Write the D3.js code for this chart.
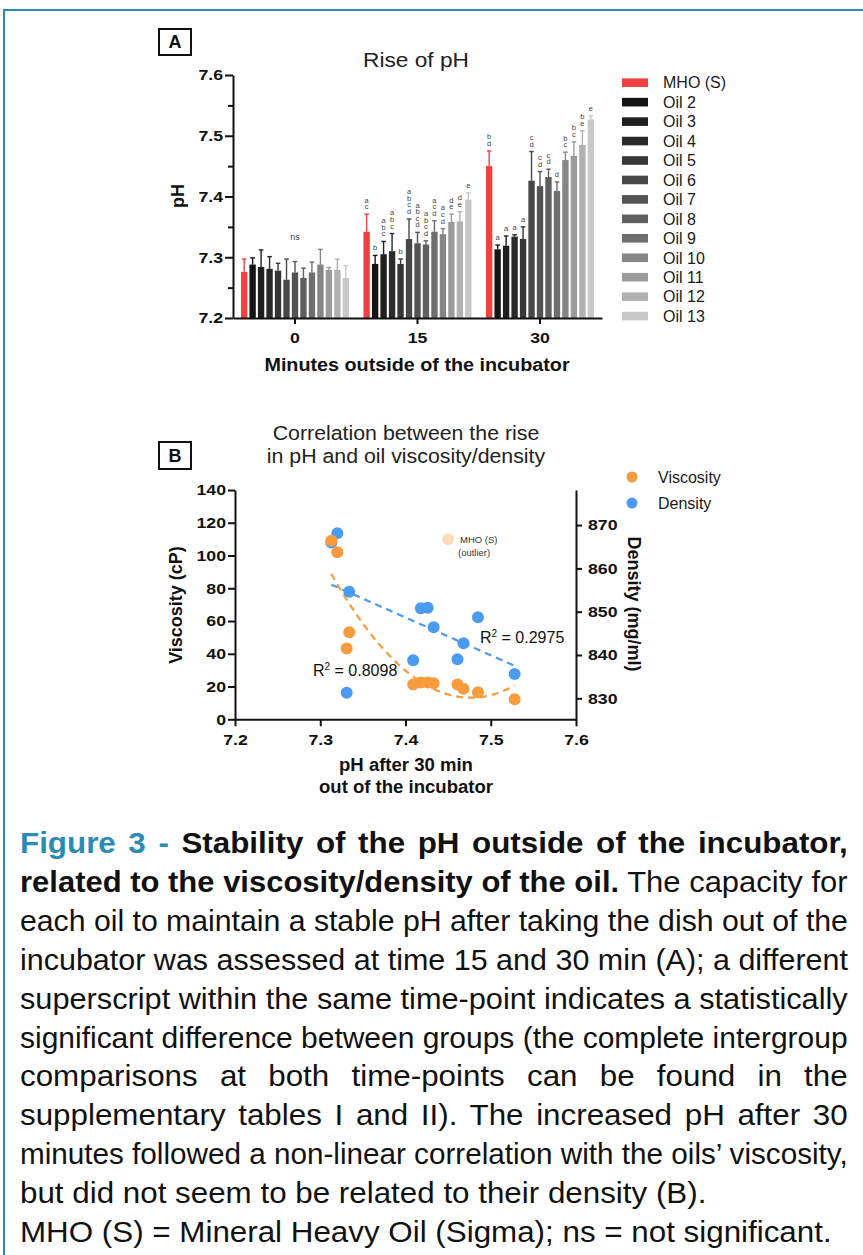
<!DOCTYPE html>
<html>
<head>
<meta charset="utf-8">
<script src="https://cdn.jsdelivr.net/npm/d3@7"></script>
<style>
  body { margin: 0; background: #fff; }
  svg { display: block; font-family: "Liberation Sans", Arial, Helvetica, sans-serif; }
  .caption { font-family: "Liberation Sans Narrow", "Arial Narrow", "Liberation Sans", Arial, sans-serif; white-space: pre; }
</style>
</head>
<body>
<svg id="fig" width="863" height="1255"></svg>
<script>
// ---------- Panel A: pH at 0, 15 and 30 min outside the incubator ----------
const timePoints = ["0", "15", "30"];
const groups = ["MHO (S)", "Oil 2", "Oil 3", "Oil 4", "Oil 5", "Oil 6", "Oil 7",
                "Oil 8", "Oil 9", "Oil 10", "Oil 11", "Oil 12", "Oil 13"];
const groupColors = ["#f23f3f", "#141414", "#1f1f1f", "#2a2a2a", "#363636", "#474747", "#535353",
                     "#5f5f5f", "#6e6e6e", "#858585", "#9b9b9b", "#b1b1b1", "#c8c8c8"];

const pH0  = [7.276, 7.288, 7.284, 7.281, 7.278, 7.263, 7.275, 7.266, 7.275, 7.288, 7.279, 7.279, 7.266];
const sd0  = [0.021, 0.011, 0.028, 0.020, 0.012, 0.034, 0.018, 0.016, 0.017, 0.025, 0.004, 0.018, 0.020];
const pH15 = [7.342, 7.289, 7.305, 7.310, 7.289, 7.330, 7.323, 7.321, 7.342, 7.338, 7.358, 7.359, 7.395];
const sd15 = [0.029, 0.014, 0.021, 0.029, 0.008, 0.033, 0.018, 0.006, 0.018, 0.009, 0.013, 0.016, 0.011];
const pH30 = [7.450, 7.313, 7.319, 7.334, 7.330, 7.426, 7.417, 7.432, 7.409, 7.460, 7.467, 7.485, 7.527];
const sd30 = [0.025, 0.007, 0.016, 0.003, 0.020, 0.048, 0.024, 0.013, 0.015, 0.013, 0.023, 0.023, 0.006];

const letters15 = ["ac", "b", "abc", "abc", "b", "abcd", "abcd", "abcd", "acd", "acd", "de", "de", "e"];
const letters30 = ["bd", "a", "a", "a", "a", "cd", "cd", "cd", "d", "bc", "bc", "be", "e"];
const groupLabel0 = "ns";
const yTicksA = [7.2, 7.3, 7.4, 7.5, 7.6];
const yMinorA = [7.25, 7.35, 7.45, 7.55];

// ---------- Panel B: pH after 30 min vs viscosity / density ----------
const oilsB      = ["Oil 2", "Oil 3", "Oil 4", "Oil 5", "Oil 6", "Oil 7", "Oil 8",
                    "Oil 9", "Oil 10", "Oil 11", "Oil 12", "Oil 13"];
const pHB        = [7.313, 7.320, 7.334, 7.331, 7.426, 7.418, 7.433, 7.409, 7.461, 7.468, 7.485, 7.528];
const viscosity  = [109.0, 102.0, 53.2, 43.2, 22.4, 22.4, 22.0, 21.2, 21.2, 18.7, 16.5, 12.2];
const density    = [866.0, 868.1, 854.6, 831.3, 850.9, 850.8, 846.4, 838.8, 839.0, 842.7, 848.7, 835.6];
const outlierMHO = { pH: 7.450, viscosity: 110 };
const r2Visc = "0.8098";
const r2Dens = "0.2975";
const xTicksB = [7.2, 7.3, 7.4, 7.5, 7.6];
const viscTicks = [0, 20, 40, 60, 80, 100, 120, 140];
const densTicks = [830, 840, 850, 860, 870];

// ---------- Caption ----------
const captionLines = [
  [["teal", "Figure 3 - "], ["bold", "Stability of the pH outside of the incubator,"]],
  [["bold", "related to the viscosity/density of the oil."], ["reg", " The capacity for"]],
  [["reg", "each oil to maintain a stable pH after taking the dish out of the"]],
  [["reg", "incubator was assessed at time 15 and 30 min (A); a different"]],
  [["reg", "superscript within the same time-point indicates a statistically"]],
  [["reg", "significant difference between groups (the complete intergroup"]],
  [["reg", "comparisons at both time-points can be found in the"]],
  [["reg", "supplementary tables I and II). The increased pH after 30"]],
  [["reg", "minutes followed a non-linear correlation with the oils\u2019 viscosity,"]],
  [["reg", "but did not seem to be related to their density (B)."]],
  [["reg", "MHO (S) = Mineral Heavy Oil (Sigma); ns = not significant."]]
];
const captionJustified = [true, true, true, true, true, true, true, true, true, false, false];

const TEAL = "#2a8cb5";
const ORANGE = "#f89b3c";
const BLUE = "#4c9bf2";
const svg = d3.select("#fig");

// widen text horizontally around its anchor point
function widen(sel, s) {
  sel.each(function () {
    const t = d3.select(this);
    const x = +t.attr("x") || 0;
    t.attr("transform", `translate(${x * (1 - s)},0) scale(${s},1)`);
  });
}

function styleAxis(g, size) {
  g.select(".domain").attr("stroke", "#111").attr("stroke-width", 2);
  g.selectAll(".tick line").attr("stroke", "#111").attr("stroke-width", 2);
  g.selectAll(".tick text").attr("fill", "#111").attr("font-size", size)
    .attr("font-weight", "bold").attr("font-family", "'Liberation Sans', Arial, sans-serif");
}

// outer frame
svg.append("path").attr("d", "M4,1260 V10 H870")
  .attr("fill", "none").attr("stroke", TEAL).attr("stroke-width", 2);

// panel letter boxes
function panelBox(x, y, w, h, label) {
  svg.append("rect").attr("x", x).attr("y", y).attr("width", w).attr("height", h)
    .attr("fill", "#fff").attr("stroke", "#111").attr("stroke-width", 2);
  svg.append("text").attr("x", x + w / 2).attr("y", y + h / 2).attr("dy", "0.36em")
    .attr("text-anchor", "middle").attr("font-weight", "bold").attr("font-size", 18)
    .attr("fill", "#111").text(label);
}

// =================== Panel A ===================
panelBox(159, 29, 32, 26, "A");

const yA = d3.scaleLinear().domain([7.2, 7.6]).range([318, 75]);
const xA = d3.scaleBand().domain(timePoints).range([233, 602]).paddingInner(0.118).paddingOuter(0.065);
const xIn = d3.scaleBand().domain(groups).range([0, xA.bandwidth()]).paddingInner(0.25).paddingOuter(0);

const titleA = svg.append("text").attr("x", 416).attr("y", 67).attr("text-anchor", "middle")
  .attr("font-size", 21).attr("fill", "#222").text("Rise of pH");
widen(titleA, 1.08);

const seriesA = [
  { t: "0", v: pH0, sd: sd0, lab: null },
  { t: "15", v: pH15, sd: sd15, lab: letters15 },
  { t: "30", v: pH30, sd: sd30, lab: letters30 }
];

const gA = svg.append("g");
seriesA.forEach(s => {
  const g = gA.append("g").attr("transform", `translate(${xA(s.t)},0)`);
  groups.forEach((name, i) => {
    const x = xIn(name), w = xIn.bandwidth(), cx = x + w / 2;
    const top = s.v[i] + s.sd[i];
    g.append("line").attr("x1", cx).attr("x2", cx).attr("y1", yA(s.v[i])).attr("y2", yA(top))
      .attr("stroke", groupColors[i]).attr("stroke-width", 1.4);
    g.append("line").attr("x1", cx - 2.3).attr("x2", cx + 2.3).attr("y1", yA(top)).attr("y2", yA(top))
      .attr("stroke", groupColors[i]).attr("stroke-width", 1.4);
    g.append("rect").attr("x", x).attr("width", w)
      .attr("y", yA(s.v[i])).attr("height", yA(7.2) - yA(s.v[i]))
      .attr("fill", groupColors[i]);
    if (s.lab) {
      // significance letters stacked one per line above the error bar
      const t = g.append("text").attr("text-anchor", "middle").attr("font-size", 7.5).attr("fill", "#444");
      const chars = s.lab[i].split("");
      const y0 = yA(top) - 5 - (chars.length - 1) * 6.6;
      chars.forEach((c, k) => {
        t.append("tspan").attr("x", cx).attr("y", y0 + k * 6.6).text(c);
      });
    }
  });
});
svg.append("text").attr("x", xA("0") + xA.bandwidth() / 2).attr("y", 240)
  .attr("text-anchor", "middle").attr("font-size", 9).attr("fill", "#444").text(groupLabel0);

// axes A
const axYA = svg.append("g").attr("transform", "translate(233,0)")
  .call(d3.axisLeft(yA).tickValues(yTicksA).tickFormat(d3.format(".1f")).tickSize(8).tickPadding(2).tickSizeOuter(0));
styleAxis(axYA, 15);
widen(axYA.selectAll(".tick text"), 1.18);
svg.append("g").attr("transform", "translate(233,0)")
  .call(d3.axisLeft(yA).tickValues(yMinorA).tickFormat("").tickSize(5).tickSizeOuter(0))
  .call(g => { g.select(".domain").remove(); g.selectAll("line").attr("stroke", "#111").attr("stroke-width", 2); });

const axXA = svg.append("g").attr("transform", "translate(0,318)")
  .call(d3.axisBottom(xA).tickSize(6).tickPadding(8).tickSizeOuter(0));
styleAxis(axXA, 15);
widen(axXA.selectAll(".tick text"), 1.18);

const tA = svg.append("text").attr("x", 417).attr("y", 371).attr("text-anchor", "middle")
  .attr("font-weight", "bold").attr("font-size", 17.5).attr("fill", "#111")
  .text("Minutes outside of the incubator");
widen(tA, 1.13);
svg.append("text").attr("transform", "translate(184,196) rotate(-90)").attr("text-anchor", "middle")
  .attr("font-weight", "bold").attr("font-size", 18).attr("fill", "#111").text("pH");

// legend A
const legA = svg.append("g");
groups.forEach((name, i) => {
  const cy = 82.7 + i * 19.45;
  legA.append("rect").attr("x", 622).attr("y", cy - 4.3).attr("width", 26).attr("height", 8.6)
    .attr("fill", groupColors[i]);
  legA.append("text").attr("x", 663).attr("y", cy).attr("dy", "0.36em")
    .attr("font-size", 16).attr("fill", "#1a1a1a").text(name);
});

// =================== Panel B ===================
panelBox(159, 442, 32, 27, "B");
const tB1 = svg.append("text").attr("x", 406).attr("y", 440).attr("text-anchor", "middle")
  .attr("font-size", 20.5).attr("fill", "#222").text("Correlation between the rise");
const tB2 = svg.append("text").attr("x", 406).attr("y", 463).attr("text-anchor", "middle")
  .attr("font-size", 20.5).attr("fill", "#222").text("in pH and oil viscosity/density");
widen(tB1, 1.04); widen(tB2, 1.04);

const xB = d3.scaleLinear().domain([7.2, 7.6]).range([235, 576]);
const yV = d3.scaleLinear().domain([0, 140]).range([719.3, 490]);
const yD = d3.scaleLinear().domain([825.15, 878.1]).range([719.3, 490]);

// least-squares polynomial fit (centred on the mean of x)
function polyFit(xs, ys, deg) {
  const n = deg + 1, mx = d3.mean(xs);
  const M = Array.from({ length: n }, () => Array(n + 1).fill(0));
  xs.forEach((x, k) => {
    const t = x - mx;
    for (let i = 0; i < n; i++) {
      for (let j = 0; j < n; j++) M[i][j] += Math.pow(t, i + j);
      M[i][n] += ys[k] * Math.pow(t, i);
    }
  });
  for (let i = 0; i < n; i++) {
    let p = i;
    for (let r = i + 1; r < n; r++) if (Math.abs(M[r][i]) > Math.abs(M[p][i])) p = r;
    [M[i], M[p]] = [M[p], M[i]];
    for (let r = 0; r < n; r++) {
      if (r === i) continue;
      const f = M[r][i] / M[i][i];
      for (let c = i; c <= n; c++) M[r][c] -= f * M[i][c];
    }
  }
  const coef = M.map((row, i) => row[n] / row[i]);
  return x => coef.reduce((s, c, i) => s + c * Math.pow(x - mx, i), 0);
}

const [pMin, pMax] = d3.extent(pHB);
const samples = d3.range(0, 61).map(k => pMin + (pMax - pMin) * k / 60);
const fitV = polyFit(pHB, viscosity, 2);
const fitD = polyFit(pHB, density, 1);

svg.append("path").datum(samples)
  .attr("d", d3.line().x(d => xB(d)).y(d => yD(fitD(d))))
  .attr("fill", "none").attr("stroke", BLUE).attr("stroke-width", 2.2).attr("stroke-dasharray", "7,5");
svg.append("path").datum(samples)
  .attr("d", d3.line().curve(d3.curveBasis).x(d => xB(d)).y(d => yV(fitV(d))))
  .attr("fill", "none").attr("stroke", ORANGE).attr("stroke-width", 2.2).attr("stroke-dasharray", "7,5");

// points: density first, viscosity on top
svg.append("g").selectAll("circle").data(pHB).join("circle")
  .attr("cx", d => xB(d)).attr("cy", (d, i) => yD(density[i])).attr("r", 6).attr("fill", BLUE);
svg.append("g").selectAll("circle").data(pHB).join("circle")
  .attr("cx", d => xB(d)).attr("cy", (d, i) => yV(viscosity[i])).attr("r", 6).attr("fill", ORANGE);

svg.append("circle").attr("cx", xB(outlierMHO.pH)).attr("cy", yV(outlierMHO.viscosity))
  .attr("r", 6).attr("fill", "#fcdcbc");
svg.append("text").attr("x", 460).attr("y", 543).attr("font-size", 9.5).attr("fill", "#333").text("MHO (S)");
svg.append("text").attr("x", 458).attr("y", 556).attr("font-size", 9.5).attr("fill", "#333").text("(outlier)");

// R² labels
function r2Label(x, y, val) {
  const t = svg.append("text").attr("x", x).attr("y", y).attr("font-size", 16).attr("fill", "#111");
  t.append("tspan").text("R");
  t.append("tspan").attr("dy", -6).attr("font-size", 10).text("2");
  t.append("tspan").attr("dy", 6).text(" = " + val);
}
r2Label(313, 676, r2Visc);
r2Label(480, 643, r2Dens);

// axes B
const axXB = svg.append("g").attr("transform", "translate(0,719.3)")
  .call(d3.axisBottom(xB).tickValues(xTicksB).tickFormat(d3.format(".1f")).tickSize(7).tickPadding(8).tickSizeOuter(0));
styleAxis(axXB, 15);
widen(axXB.selectAll(".tick text"), 1.18);

const axVB = svg.append("g").attr("transform", "translate(235,0)")
  .call(d3.axisLeft(yV).tickValues(viscTicks).tickSize(7).tickPadding(2).tickSizeOuter(0));
styleAxis(axVB, 15);
widen(axVB.selectAll(".tick text"), 1.18);

const axDB = svg.append("g").attr("transform", "translate(576,0)")
  .call(d3.axisRight(yD).tickValues(densTicks).tickSize(6).tickPadding(6).tickSizeOuter(0));
styleAxis(axDB, 15);
widen(axDB.selectAll(".tick text"), 1.18);

svg.append("text").attr("transform", "translate(182,605) rotate(-90)").attr("text-anchor", "middle")
  .attr("font-weight", "bold").attr("font-size", 18).attr("fill", "#111").text("Viscosity (cP)");
svg.append("text").attr("transform", "translate(628,604) rotate(90)").attr("text-anchor", "middle")
  .attr("font-weight", "bold").attr("font-size", 18).attr("fill", "#111").text("Density (mg/ml)");

const xl1 = svg.append("text").attr("x", 406).attr("y", 771).attr("text-anchor", "middle")
  .attr("font-weight", "bold").attr("font-size", 17.5).attr("fill", "#111").text("pH after 30 min");
const xl2 = svg.append("text").attr("x", 406).attr("y", 793).attr("text-anchor", "middle")
  .attr("font-weight", "bold").attr("font-size", 17.5).attr("fill", "#111").text("out of the incubator");
widen(xl1, 1.06); widen(xl2, 1.06);

// legend B
[["Viscosity", ORANGE, 477], ["Density", BLUE, 503]].forEach(([name, col, cy]) => {
  svg.append("circle").attr("cx", 632).attr("cy", cy).attr("r", 5.5).attr("fill", col);
  svg.append("text").attr("x", 658).attr("y", cy).attr("dy", "0.36em")
    .attr("font-size", 16).attr("fill", "#1a1a1a").text(name);
});

// =================== Caption ===================
const styles = {
  teal: { fill: TEAL, weight: "bold" },
  bold: { fill: "#111", weight: "bold" },
  reg:  { fill: "#111", weight: "normal" }
};
const capLeft = 20, capWidth = 828, capLastWidth = 812;
const capNodes = captionLines.map(segs => {
  const t = svg.append("text").attr("class", "caption").attr("x", 0).attr("y", 0)
    .attr("font-size", 29);
  segs.forEach(([st, txt]) => {
    t.append("tspan").attr("fill", styles[st].fill).attr("font-weight", styles[st].weight).text(txt);
  });
  return t;
});
// one horizontal glyph scale for the whole caption, taken from the closing line
const lastW = capNodes[capNodes.length - 1].node().getComputedTextLength();
const capScale = capLastWidth / lastW;
capNodes.forEach((t, i) => {
  const baseline = 853 + i * 38.9;
  let s = capScale;
  if (captionJustified[i]) {
    const w = t.node().getComputedTextLength();
    const spaces = captionLines[i].map(d => d[1]).join("").split(" ").length - 1;
    const ws = (capWidth / capScale - w) / spaces;
    if (ws >= 0) {
      t.style("word-spacing", ws + "px");
    } else {
      s = capWidth / w;
    }
  }
  t.attr("transform", `translate(${capLeft},${baseline}) scale(${s},1)`);
});
</script>
</body>
</html>
